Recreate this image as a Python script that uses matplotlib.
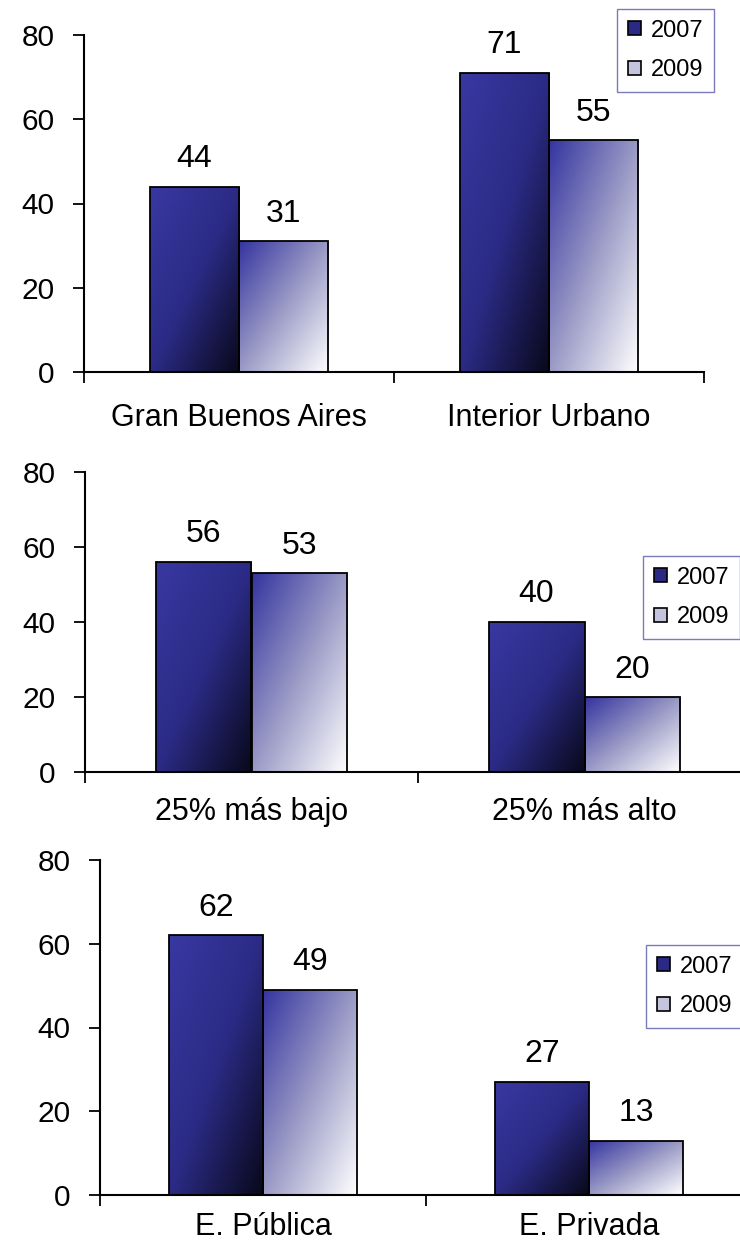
import numpy as np
import matplotlib.pyplot as plt
from matplotlib.colors import LinearSegmentedColormap
from matplotlib.patches import Patch

plt.rcParams['font.family'] = ['Liberation Sans', 'DejaVu Sans']

years = ['2007', '2009']

cats_region = ['Gran Buenos Aires', 'Interior Urbano']
vals_region_2007 = [44, 71]
vals_region_2009 = [31, 55]

cats_income = ['25% más bajo', '25% más alto']
vals_income_2007 = [56, 40]
vals_income_2009 = [53, 20]

cats_school = ['E. Pública', 'E. Privada']
vals_school_2007 = [62, 27]
vals_school_2009 = [49, 13]

cmap_07 = LinearSegmentedColormap.from_list('g07', ['#3838a2', '#2b2b86', '#08081a'])
cmap_09 = LinearSegmentedColormap.from_list('g09', ['#3434a0', '#9a9ac6', '#ffffff'])

W, H = 740, 1249
fig = plt.figure(figsize=(W / 100, H / 100), dpi=100)


def fig_rect(x0, y_top, x1, y_bot):
    return [x0 / W, 1 - y_bot / H, (x1 - x0) / W, (y_bot - y_top) / H]


def grad_bar(ax, bar, cmap):
    x0 = bar.get_x()
    w = bar.get_width()
    h = bar.get_height()
    n = 200
    u = np.linspace(0, 1, n)[None, :]
    v = np.linspace(0, 1, n)[:, None]
    t = (u + v) / 2
    im = ax.imshow(t, cmap=cmap, vmin=0, vmax=1, extent=(x0, x0 + w, 0, h),
                   origin='upper', aspect='auto', zorder=2, interpolation='bilinear')
    im.set_clip_path(bar)


def panel(rect, cats, v07, v09, label_pad, leg_xy):
    ax = fig.add_axes(rect)
    x = np.arange(len(cats)) + 0.5
    bw = 0.288
    b1 = ax.bar(x - bw / 2, v07, bw, facecolor='none', edgecolor='black', lw=1.3, zorder=3)
    b2 = ax.bar(x + bw / 2, v09, bw, facecolor='none', edgecolor='black', lw=1.3, zorder=3)
    for b in b1:
        grad_bar(ax, b, cmap_07)
    for b in b2:
        grad_bar(ax, b, cmap_09)
    for bars, vals in ((b1, v07), (b2, v09)):
        for b, v in zip(bars, vals):
            ax.annotate(str(v), (b.get_x() + b.get_width() / 2, v), xytext=(0, 9),
                        textcoords='offset points', ha='center', va='bottom', fontsize=23)
    ax.set_xlim(0, len(cats))
    ax.set_ylim(0, 80)
    ax.set_yticks([0, 20, 40, 60, 80])
    ax.set_xticks(np.arange(len(cats) + 1))
    ax.set_xticklabels([])
    ax.set_xticks(x, minor=True)
    ax.set_xticklabels(cats, minor=True)
    ax.tick_params(axis='x', which='minor', length=0, pad=label_pad, labelsize=22)
    ax.tick_params(axis='x', which='major', length=8, width=1.3, direction='out')
    ax.tick_params(axis='y', length=8, width=1.3, labelsize=21.5, pad=13)
    for s in ('top', 'right'):
        ax.spines[s].set_visible(False)
    for s in ('left', 'bottom'):
        ax.spines[s].set_linewidth(1.5)

    handles = [Patch(facecolor='#2a2a84', edgecolor='black', lw=1.2),
               Patch(facecolor='#c4c4de', edgecolor='black', lw=1.2)]
    fig.legend(handles, years, loc='upper left',
               bbox_to_anchor=(leg_xy[0] / W, 1 - leg_xy[1] / H),
               fontsize=17, frameon=True, fancybox=False, edgecolor='#5a5aaa',
               handlelength=0.55, handleheight=0.55, handletextpad=0.45,
               labelspacing=0.75, borderpad=0.45, borderaxespad=0)
    return ax


panel(fig_rect(84, 35, 704, 372), cats_region, vals_region_2007, vals_region_2009, 22, (617, 9))
panel(fig_rect(85, 472, 751, 772), cats_income, vals_income_2007, vals_income_2009, 18, (643, 556))
panel(fig_rect(100, 860, 752, 1195), cats_school, vals_school_2007, vals_school_2009, 12, (646, 945))

fig.savefig('out.png', dpi=100)
